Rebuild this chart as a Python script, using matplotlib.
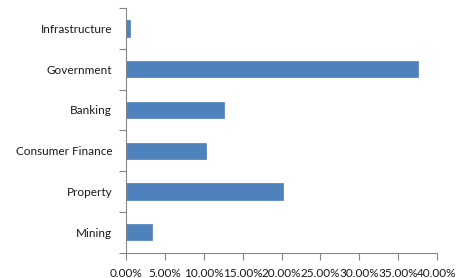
import matplotlib
matplotlib.use("Agg")
import matplotlib.pyplot as plt
import numpy as np
from matplotlib.ticker import FixedLocator

categories = ["Mining", "Property", "Consumer Finance", "Banking", "Government", "Infrastructure"]
values = [3.3, 20.2, 10.3, 12.6, 37.6, 0.5]
xticks = [0, 5, 10, 15, 20, 25, 30, 35, 40]
xticklabels = ["0.00%", "5.00%", "10.00%", "15.00%", "20.00%", "25.00%", "30.00%", "35.00%", "40.00%"]

plt.rcParams['font.family'] = ['Lato', 'DejaVu Sans']

fig = plt.figure(figsize=(4.67, 2.78), dpi=100)
ax = fig.add_axes([0.27, 0.091, 0.666, 0.88])
y = np.arange(len(categories))
ax.barh(y, values, height=0.4, color="#4F81BD", edgecolor="#4A7EBB", linewidth=0.5)

ax.set_xlim(0, 40)
ax.set_ylim(-0.5, len(categories) - 0.5)
ax.set_yticks(y)
ax.set_yticklabels(categories, fontsize=8.5, color="#1a1a1a")
ax.tick_params(axis='y', which='major', length=0, pad=10)
ax.yaxis.set_minor_locator(FixedLocator(np.arange(-0.5, len(categories), 1.0)))
ax.tick_params(axis='y', which='minor', length=5, color="#868686", width=0.8)

ax.set_xticks(xticks)
ax.set_xticklabels(xticklabels, fontsize=8.5, color="#1a1a1a")
ax.tick_params(axis='x', length=5, color="#868686", width=0.8, pad=6)

for s in ["top", "right"]:
    ax.spines[s].set_visible(False)
for s in ["left", "bottom"]:
    ax.spines[s].set_color("#868686")
    ax.spines[s].set_linewidth(0.8)

fig.savefig("out.png", dpi=100, facecolor="white")
